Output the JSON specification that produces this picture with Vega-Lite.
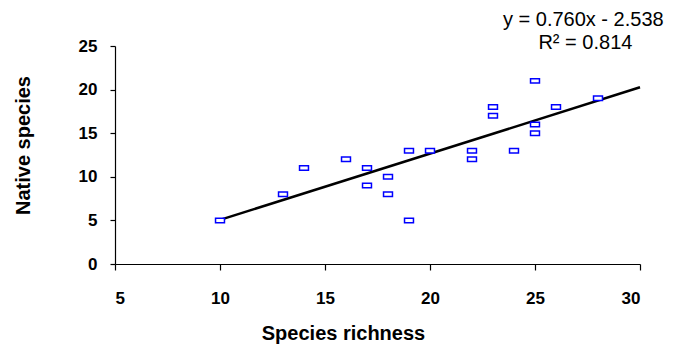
{
  "$schema": "https://vega.github.io/schema/vega-lite/v6.json",
  "autosize": {"type": "none"},
  "padding": {"left": 115, "top": 46, "right": 44, "bottom": 83},
  "width": 525,
  "height": 218,
  "background": "white",
  "config": {
    "view": {"stroke": null},
    "font": "Liberation Sans",
    "axis": {
      "grid": false,
      "domainColor": "black",
      "tickColor": "black",
      "labelColor": "black",
      "titleColor": "black",
      "labelFont": "Liberation Sans",
      "titleFont": "Liberation Sans",
      "labelFontSize": 17,
      "labelFontWeight": "bold",
      "titleFontSize": 20,
      "titleFontWeight": "bold",
      "domainWidth": 1.2,
      "tickWidth": 1.2
    }
  },
  "datasets": {
    "pts": [
      {"richness": 10, "native": 5},
      {"richness": 13, "native": 8},
      {"richness": 14, "native": 11},
      {"richness": 16, "native": 12},
      {"richness": 17, "native": 11},
      {"richness": 17, "native": 9},
      {"richness": 18, "native": 10},
      {"richness": 18, "native": 8},
      {"richness": 19, "native": 13},
      {"richness": 19, "native": 5},
      {"richness": 20, "native": 13},
      {"richness": 22, "native": 13},
      {"richness": 22, "native": 12},
      {"richness": 23, "native": 18},
      {"richness": 23, "native": 17},
      {"richness": 24, "native": 13},
      {"richness": 25, "native": 21},
      {"richness": 25, "native": 16},
      {"richness": 25, "native": 15},
      {"richness": 26, "native": 18},
      {"richness": 28, "native": 19}
    ],
    "fit": [
      {"richness": 10, "native": 5.062},
      {"richness": 30, "native": 20.262}
    ],
    "eq": [
      {"richness": 27.3, "native": 28.0, "label": "y = 0.760x  - 2.538"},
      {"richness": 27.4, "native": 25.3, "label": "R² = 0.814"}
    ]
  },
  "layer": [
    {
      "data": {"name": "fit"},
      "mark": {"type": "line", "color": "black", "strokeWidth": 2.5},
      "encoding": {
        "x": {"field": "richness", "type": "quantitative",
              "scale": {"domain": [5, 30], "nice": false, "zero": false},
              "axis": {"values": [5, 10, 15, 20, 25, 30], "tickSize": 6, "labelPadding": 20,
                       "title": "Species richness", "titleX": 228, "titleY": 69,
                       "titleBaseline": "middle", "titleAlign": "center", "titleAnchor": null}},
        "y": {"field": "native", "type": "quantitative",
              "scale": {"domain": [0, 25], "nice": false},
              "axis": {"values": [0, 5, 10, 15, 20, 25], "tickSize": 5, "labelPadding": 13,
                       "title": "Native  species", "titleX": -92, "titleY": 99,
                       "titleBaseline": "middle", "titleAlign": "center", "titleAngle": -90}}
      }
    },
    {
      "data": {"name": "pts"},
      "mark": {"type": "point", "shape": "M-1,-0.5H1V0.5H-1Z", "size": 80, "filled": false,
               "stroke": "#0000ff", "fill": "white", "strokeWidth": 1.5, "opacity": 1},
      "encoding": {
        "x": {"field": "richness", "type": "quantitative"},
        "y": {"field": "native", "type": "quantitative"}
      }
    },
    {
      "data": {"name": "eq"},
      "mark": {"type": "text", "fontSize": 20, "color": "black", "align": "center", "baseline": "middle"},
      "encoding": {
        "x": {"field": "richness", "type": "quantitative"},
        "y": {"field": "native", "type": "quantitative"},
        "text": {"field": "label"}
      }
    }
  ]
}
